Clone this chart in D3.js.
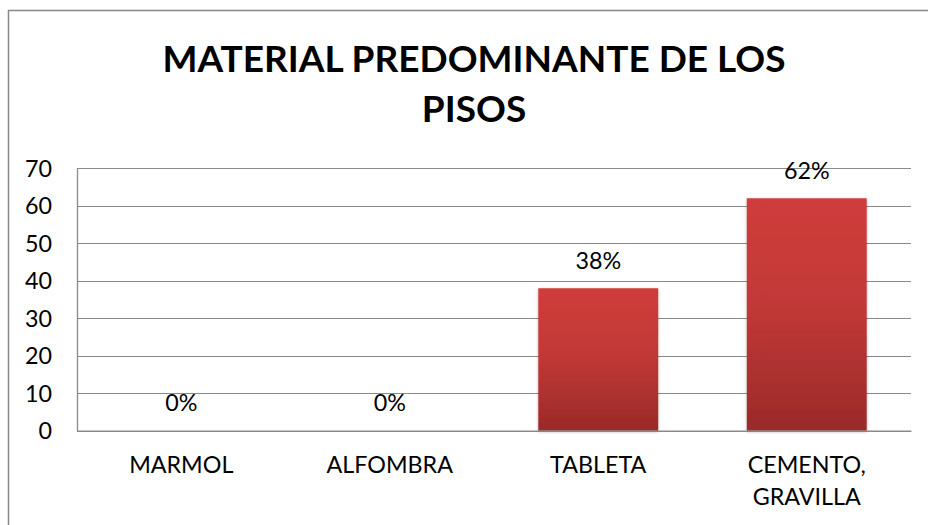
<!DOCTYPE html>
<html><head><meta charset="utf-8">
<script src="https://cdn.jsdelivr.net/npm/d3@7"></script>
<style>html,body{margin:0;padding:0;background:#fff;}svg{display:block;}</style>
</head><body>
<svg id="chart" width="928" height="525"></svg>
<script>
const categories = [["MARMOL"], ["ALFOMBRA"], ["TABLETA"], ["CEMENTO,", "GRAVILLA"]];
const values = [0, 0, 38, 62];
const valueLabels = ["0%", "0%", "38%", "62%"];
const yTicks = [0, 10, 20, 30, 40, 50, 60, 70];
const titleLines = ["MATERIAL PREDOMINANTE DE LOS", "PISOS"];

const svg = d3.select("#chart");
const font = "Lato, 'Open Sans', sans-serif";
const W = 928, H = 525;
const m = {left: 77, right: 17, top: 168.3, bottom: 94.3};
const fs = 23.3;

svg.append("rect").attr("x", 8.5).attr("y", 10.5).attr("width", 940).attr("height", 540)
  .attr("fill", "#fff").attr("stroke", "#888").attr("stroke-width", 1.5);

const x = d3.scaleBand().domain(d3.range(categories.length)).range([m.left, W - m.right]).paddingInner(0.425).paddingOuter(0.2125);
const y = d3.scaleLinear().domain([0, 70]).range([H - m.bottom, m.top]);

const defs = svg.append("defs");
const grad = defs.append("linearGradient").attr("id", "barGrad").attr("x1", 0).attr("y1", 0).attr("x2", 0).attr("y2", 1);
grad.append("stop").attr("offset", "0%").attr("stop-color", "#cf3c3a");
grad.append("stop").attr("offset", "45%").attr("stop-color", "#c23937");
grad.append("stop").attr("offset", "100%").attr("stop-color", "#9a2a29");
const filt = defs.append("filter").attr("id", "shadow").attr("x", "-10%").attr("y", "-10%").attr("width", "120%").attr("height", "120%");
filt.append("feDropShadow").attr("dx", 0).attr("dy", 1).attr("stdDeviation", 1.5).attr("flood-color", "#000").attr("flood-opacity", 0.3);

// gridlines
const grid = svg.append("g").attr("class", "grid")
  .attr("transform", `translate(${m.left},0)`)
  .call(d3.axisLeft(y).tickValues(yTicks).tickSize(-(W - m.right - m.left)).tickFormat(""));
grid.select(".domain").remove();
grid.selectAll("line").attr("stroke", "#8a8a8a").attr("stroke-width", 1.3).attr("shape-rendering", "crispEdges");

// y axis
const ya = svg.append("g").attr("transform", `translate(${m.left},0)`)
  .call(d3.axisLeft(y).tickValues(yTicks).tickSize(0).tickPadding(25));
ya.select(".domain").attr("stroke", "#8a8a8a").attr("stroke-width", 1.3);
ya.selectAll("text").attr("font-family", font).attr("font-size", fs).attr("fill", "#000").attr("dy", "0.35em");

// bars
svg.append("g").selectAll("rect").data(values).join("rect")
  .attr("x", (d, i) => x(i)).attr("width", x.bandwidth())
  .attr("y", d => y(d)).attr("height", d => y(0) - y(d))
  .attr("fill", "url(#barGrad)").attr("filter", "url(#shadow)");

// value labels
svg.append("g").selectAll("text").data(values).join("text")
  .attr("x", (d, i) => x(i) + x.bandwidth() / 2).attr("y", d => y(d) - 19.5)
  .attr("text-anchor", "middle").attr("font-family", font).attr("font-size", fs).attr("fill", "#000")
  .text((d, i) => valueLabels[i]);

// x axis
const xa = svg.append("g").attr("transform", `translate(0,${y(0)})`)
  .call(d3.axisBottom(x).tickSize(0).tickFormat(""));
xa.select(".domain").attr("stroke", "#8a8a8a").attr("stroke-width", 1.3);
const catG = svg.append("g");
categories.forEach((lines, i) => {
  lines.forEach((t, j) => {
    catG.append("text").attr("x", x(i) + x.bandwidth() / 2).attr("y", 473 + j * 32)
      .attr("text-anchor", "middle").attr("font-family", font).attr("font-size", fs).attr("fill", "#000").text(t);
  });
});

// title
titleLines.forEach((t, j) => {
  svg.append("text").attr("x", 474).attr("y", 72 + j * 50).attr("text-anchor", "middle")
    .attr("font-family", font).attr("font-weight", "bold").attr("font-size", 37).attr("fill", "#000").text(t);
});
</script>
</body></html>
